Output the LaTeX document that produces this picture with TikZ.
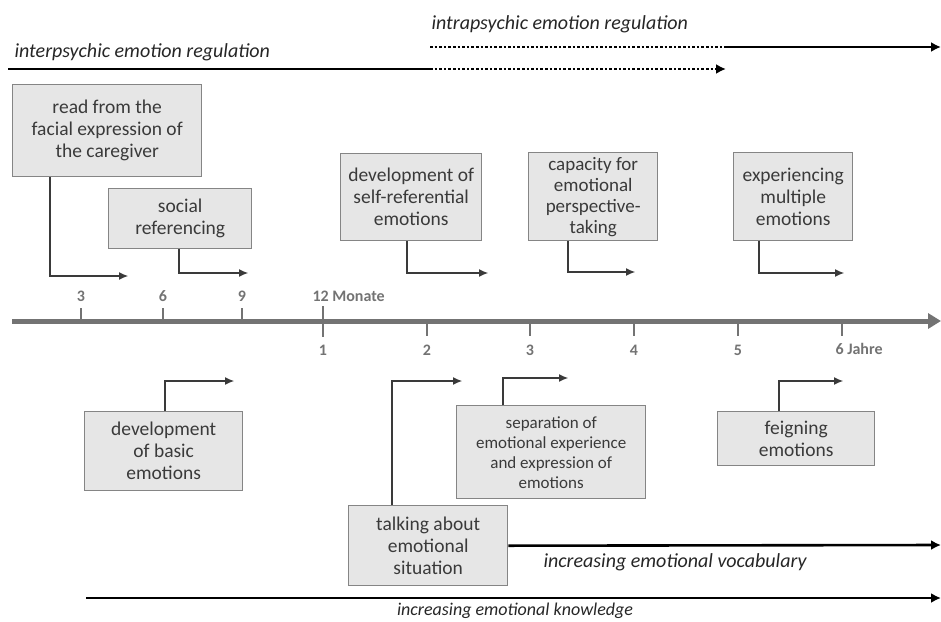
\documentclass[tikz,border=0pt]{standalone}
\usepackage{fontspec}
\setmainfont{Carlito}
\usetikzlibrary{arrows.meta,positioning}
\definecolor{boxfill}{HTML}{E6E6E6}
\definecolor{boxline}{HTML}{858585}
\definecolor{boxtext}{HTML}{3A3A3A}
\definecolor{axisgray}{HTML}{737373}
\tikzset{
  stage/.style   = {draw=boxline, line width=1.4pt, fill=boxfill, text=boxtext,
                    anchor=north west, align=center, inner sep=1pt,
                    font=\fontsize{19.5}{22}\selectfont},
  lead/.style    = {draw=boxtext, line width=1.1pt, -{Latex[length=9pt,width=8pt]}},
  flow/.style    = {line width=2.6pt},
  axis/.style    = {draw=axisgray, line width=5pt, -{Triangle[length=13pt,width=15pt]}},
  tickmark/.style= {draw=axisgray, line width=2pt},
  axlab/.style   = {text=axisgray, font=\fontsize{16}{18}\selectfont\bfseries},
  trend/.style   = {font=\fontsize{20}{22}\selectfont\itshape, text=black!85, anchor=west},
}
\begin{document}
\begin{tikzpicture}[x=1pt, y=-1pt]
\useasboundingbox (0,0) rectangle (941,621);
% ---- emotion regulation ----
\node[trend] (interLab) at (11,52) {interpsychic emotion regulation};
\node[trend] (intraLab) at (428,24) {intrapsychic emotion regulation};
\coordinate (interA) at (8,69);
\coordinate (interB) at (430,69);
\coordinate (interC) at (726,69);
\draw[flow] (interA) -- (interB);
\draw[flow, dotted, -{Latex[length=10pt,width=10pt]}] (interB) -- (interC);
\coordinate (intraA) at (430,47);
\coordinate (intraB) at (725,47);
\coordinate (intraC) at (941,47);
\draw[flow, dotted] (intraA) -- (intraB);
\draw[flow, -{Latex[length=10pt,width=10pt]}] (intraB) -- (intraC);
% ---- stages above the axis ----
\node[stage, minimum width=189pt, minimum height=92pt] (face) at (12,84)
      {read from the\\facial expression of\\the caregiver};
\node[stage, minimum width=143pt, minimum height=60pt] (socref) at (108,188)
      {social\\referencing};
\node[stage, minimum width=141pt, minimum height=87pt] (selfref) at (340,153)
      {development of\\self-referential\\emotions};
\node[stage, minimum width=129pt, minimum height=88pt,
      font=\fontsize{19}{21}\selectfont] (persp) at (528,152)
      {capacity for\\emotional\\perspective-\\taking};
\node[stage, minimum width=119pt, minimum height=88pt] (multi) at (733,152)
      {experiencing\\multiple\\emotions};
\coordinate (faceEnd) at (128,276);
\coordinate (socrefEnd) at (248,273);
\coordinate (selfrefEnd) at (488,273);
\coordinate (perspEnd) at (635,272);
\coordinate (multiEnd) at (844,273);
\draw[lead] ([xshift=38pt]face.south west) |- (faceEnd);
\draw[lead] ([xshift=71pt]socref.south west) |- (socrefEnd);
\draw[lead] ([xshift=67pt]selfref.south west) |- (selfrefEnd);
\draw[lead] ([xshift=40pt]persp.south west) |- (perspEnd);
\draw[lead] ([xshift=26pt]multi.south west) |- (multiEnd);
% ---- time axis ----
\coordinate (axisA) at (12,321);
\coordinate (axisB) at (941,321);
\draw[axis] (axisA) -- (axisB);
\foreach \x/\lab in {81/3, 163/6, 242/9} {
  \draw[tickmark] (\x,308) -- (\x,321);
  \node[axlab] (m\lab) at (\x,296) {\lab};
}
\draw[tickmark] (323,306) -- (323,337);
\node[axlab, anchor=west] (m12) at (309,296) {12 Monate};
\foreach \x/\lab in {323/1, 427/2, 530/3, 634/4, 738/5} {
  \draw[tickmark] (\x,321) -- (\x,336);
  \node[axlab] (y\lab) at (\x,350) {\lab};
}
\draw[tickmark] (842,321) -- (842,336);
\node[axlab, anchor=west] (y6) at (832,349) {6 Jahre};
% ---- stages below the axis ----
\node[stage, minimum width=158pt, minimum height=79pt] (basic) at (84,411)
      {development\\of basic\\emotions};
\node[stage, minimum width=189pt, minimum height=93pt,
      font=\fontsize{17}{20}\selectfont] (separ) at (456,405)
      {separation of\\emotional experience\\and expression of\\emotions};
\node[stage, minimum width=157pt, minimum height=54pt] (feign) at (717,411)
      {feigning\\emotions};
\node[stage, minimum width=159pt, minimum height=80pt] (talk) at (348,505)
      {talking about\\emotional\\situation};
\coordinate (basicEnd) at (234,381);
\coordinate (talkEnd) at (462,381);
\coordinate (separEnd) at (568,378);
\coordinate (feignEnd) at (843,381);
\draw[lead] ([xshift=81pt]basic.north west) |- (basicEnd);
\draw[lead] ([xshift=44pt]talk.north west) |- (talkEnd);
\draw[lead] ([xshift=47pt]separ.north west) |- (separEnd);
\draw[lead] ([xshift=62pt]feign.north west) |- (feignEnd);
% ---- vocabulary and knowledge ----
\coordinate (vocabEnd) at (941,545);
\draw[flow, -{Latex[length=10pt,width=10pt]}] (talk.east) -- (vocabEnd);
\node[trend] (vocabLab) at (540,562) {increasing emotional vocabulary};
\coordinate (knowA) at (86,598);
\coordinate (knowB) at (941,598);
\draw[flow, -{Latex[length=10pt,width=10pt]}] (knowA) -- (knowB);
\node[trend, anchor=center, font=\fontsize{18}{20}\selectfont\itshape] (knowLab) at (515,611)
      {increasing emotional knowledge};
\end{tikzpicture}
\end{document}
